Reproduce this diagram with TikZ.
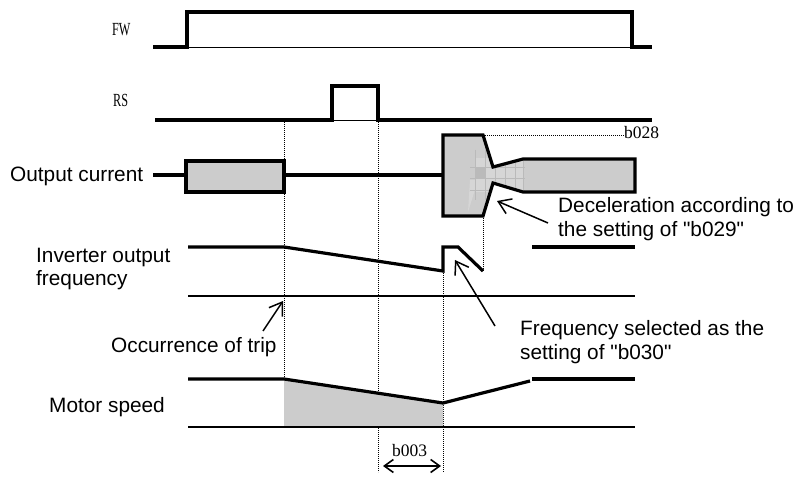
\documentclass[tikz,border=0pt]{standalone}
\usepackage{fontspec}
\setmainfont{Liberation Sans}[Ligatures=TeXOff]
\newfontfamily\narrowserif{Liberation Serif}[FakeStretch=0.66]
\newfontfamily\plainserif{Liberation Serif}
\usetikzlibrary{arrows.meta}
\definecolor{boxgray}{RGB}{204,204,204}
\definecolor{gridgray}{RGB}{186,186,186}
\definecolor{lightcell}{RGB}{214,214,214}
\begin{document}
\begin{tikzpicture}[x=1pt,y=-1pt,
  sig/.style={line width=3.2pt, line join=miter},
  basel/.style={line width=1.4pt},
  thinbase/.style={line width=0.8pt},
  guide/.style={line width=0.7pt, dash pattern=on 0.7pt off 1.3pt},
  lbl/.style={font=\fontsize{20.8}{24}\selectfont, anchor=base west, inner sep=0pt},
  slbl/.style={font=\narrowserif\fontsize{18.5}{20}\selectfont, anchor=base west, inner sep=0pt},
  blbl/.style={font=\plainserif\fontsize{17.5}{20}\selectfont, anchor=base west, inner sep=0pt},
  callout/.style={line width=1.5pt, -{Straight Barb[length=12pt,width=16pt,line width=1.5pt]}},
  dimarrow/.style={line width=1.6pt, {Straight Barb[length=9pt,width=13pt,line width=1.6pt]}-{Straight Barb[length=9pt,width=13pt,line width=1.6pt]}},
]
\useasboundingbox (0,0) rectangle (800,478);

% ---- guides (dotted) ----
\draw[guide] (284,122) -- (284,427);
\draw[guide] (378,122) -- (378,472);
\draw[guide] (443,271) -- (443,472);
\draw[guide] (483,216) -- (483,271);
\draw[guide] (483,135) -- (624,135);

% ---- FW ----
\node[slbl] (fw) at (112,36) {FW};
\draw[sig] (153,47) -- (187,47) -- (187,12) -- (632,12) -- (632,47) -- (652,47);
\draw[thinbase] (187,47) -- (632,47);

% ---- RS ----
\node[slbl] (rs) at (113,107) {RS};
\draw[sig] (155,120) -- (332,120) -- (332,86) -- (378,86) -- (378,120) -- (652,120);
\draw[thinbase] (332,120) -- (378,120);

% ---- Output current ----
\node[lbl] (oc) at (10,182) {Output current};
\draw[sig] (153,175) -- (186,175);
\draw[sig, fill=boxgray] (186,161) rectangle (284,192);
\draw[sig] (284,175) -- (443,175);
\fill[boxgray] (443,135) -- (483,135) -- (493,167) -- (523,159) -- (635,159) -- (635,192) -- (523,192) -- (493,183) -- (483,216) -- (443,216) -- cycle;
\begin{scope}
  \clip (443,135) -- (483,135) -- (493,167) -- (523,159) -- (635,159) -- (635,192) -- (523,192) -- (493,183) -- (483,216) -- (443,216) -- cycle;
  \fill[lightcell] (475,158) rectangle (523,192);
  \fill[gridgray] (475,167) rectangle (485,178);
  \fill[lightcell] (470,180) -- (478,180) -- (468,212) -- cycle;
  \draw[gridgray, line width=0.4pt] (475,150) -- (475,200) (485,150) -- (485,200) (495,150) -- (495,200) (505,150) -- (505,200) (515,150) -- (515,200) (523,150) -- (523,200);
  \draw[gridgray, line width=0.4pt] (470,167) -- (525,167) (470,178) -- (525,178) (470,190) -- (525,190);
\end{scope}
\draw[sig] (443,135) -- (483,135) -- (493,167) -- (523,159) -- (635,159) -- (635,192) -- (523,192) -- (493,183) -- (483,216) -- (443,216) -- cycle;
\node[blbl] (b028) at (624,139) {b028};

% ---- Inverter output frequency ----
\node[lbl] (iof1) at (36,262) {Inverter output};
\node[lbl] (iof2) at (36,286) {frequency};
\draw[sig] (188,247) -- (284,247) -- (443,271) -- (443,247) -- (458,247) -- (483,271);
\draw[sig] (532,247) -- (635,247);
\draw[basel] (188,296) -- (635,296);

% ---- Motor speed ----
\node[lbl] (ms) at (49,412) {Motor speed};
\fill[boxgray] (284,379) -- (443,403) -- (443,427) -- (284,427) -- cycle;
\draw[sig] (188,379) -- (284,379) -- (443,403) -- (530,381);
\draw[sig] (532,379) -- (635,379);
\draw[basel] (188,427) -- (635,427);

% ---- b003 ----
\node[blbl] (b003) at (392,456) {b003};
\coordinate (dimL) at (383,466);
\coordinate (dimR) at (441,466);
\draw[dimarrow] (dimL) -- (dimR);

% ---- callouts ----
\node[lbl] (trip) at (111,352) {Occurrence of trip};
\coordinate (tripS) at (263,331);
\coordinate (tripT) at (283,301);
\draw[callout] (tripS) -- (tripT);

\node[lbl] (fs1) at (520,335) {Frequency selected as the};
\node[lbl] (fs2) at (520,359) {setting of "b030"};
\coordinate (fsS) at (495,326);
\coordinate (fsT) at (455,260);
\draw[callout] (fsS) -- (fsT);

\node[lbl] (dc1) at (558,213) {Deceleration according to};
\node[lbl] (dc2) at (558,237) {the setting of "b029"};
\coordinate (dcS) at (548,223);
\coordinate (dcT) at (497,201);
\draw[callout] (dcS) -- (dcT);
\end{tikzpicture}
\end{document}
